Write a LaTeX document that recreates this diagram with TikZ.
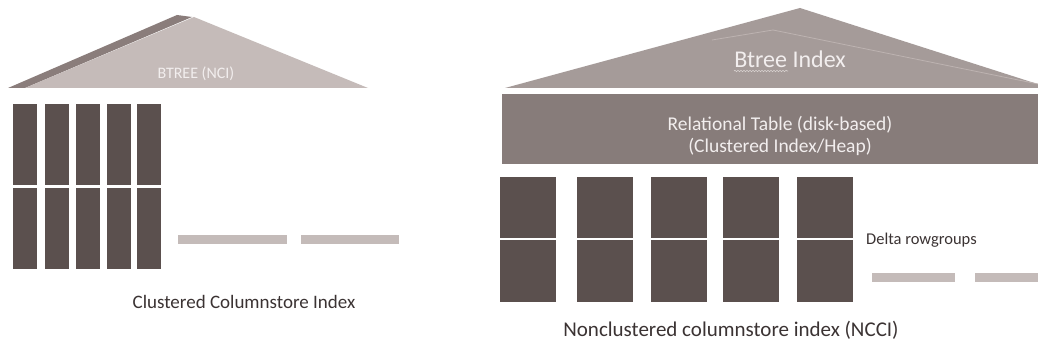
\documentclass[tikz,border=0pt]{standalone}
\usepackage{fontspec}
\setmainfont{Carlito}
\usetikzlibrary{decorations.pathmorphing}
\definecolor{roofLight}{HTML}{C5BBB9}
\definecolor{roofDark}{HTML}{8A7D7B}
\definecolor{roofMid}{HTML}{A59B99}
\definecolor{roofLine}{HTML}{BDB3B1}
\definecolor{tableCol}{HTML}{877C7A}
\definecolor{colDark}{HTML}{5B504E}
\definecolor{barCol}{HTML}{C4BBB9}
\definecolor{txtDark}{HTML}{3B3333}
\definecolor{txtLight}{HTML}{F2EEEE}
\definecolor{squig}{HTML}{D8D2D0}
\begin{document}
\begin{tikzpicture}[x=1pt,y=-1pt,
  colseg/.style={fill=colDark},
  barseg/.style={fill=barCol},
  lbl/.style={inner sep=0pt,anchor=base,text=txtDark},
  lbllight/.style={inner sep=0pt,anchor=base,text=txtLight}]
\useasboundingbox[fill=white] (0,0) rectangle (1038,347);
% ---------- left: clustered columnstore ----------
\fill[roofDark] (8,88) -- (177,15) -- (192,17) -- (25,88) -- cycle;
\fill[roofLight] (25,88) -- (194,17) -- (368,88) -- cycle;
\node[lbllight,font=\fontsize{16}{16}\selectfont] (btreenci) at (196,79) {BTREE (NCI)};
\foreach \x in {13,45,76,107,137}{
  \fill[colseg] (\x,104) rectangle ++(24,81);
  \fill[colseg] (\x,188) rectangle ++(24,81);
}
\fill[barseg] (178,235) rectangle (287,244);
\fill[barseg] (301,235) rectangle (399,244);
\node[lbl,font=\fontsize{19}{19}\selectfont] (cci) at (244,308) {Clustered Columnstore Index};
% ---------- right: nonclustered columnstore ----------
\fill[roofMid] (505,88) -- (800,8) -- (1050,88) -- cycle;
\draw[roofLine,line width=0.8pt] (712,40) -- (773,30) -- (1038,84);
\node[lbllight,font=\fontsize{24}{24}\selectfont] (btree) at (790,68) {Btree Index};
\coordinate (sqA) at ([yshift=-3pt]btree.base west);
\coordinate (sqB) at ([xshift=54pt,yshift=-3pt]btree.base west);
\draw[squig,line width=0.6pt,decorate,decoration={snake,amplitude=0.8pt,segment length=3pt}] (sqA) -- (sqB);
\fill[tableCol] (502,94) rectangle (1038,164);
\node[lbllight,font=\fontsize{19.5}{19.5}\selectfont] (rel1) at (780,131) {Relational Table (disk-based)};
\node[lbllight,font=\fontsize{19.5}{19.5}\selectfont] (rel2) at (780,152.5) {(Clustered Index/Heap)};
\foreach \x in {500,577,651,723,797}{
  \fill[colseg] (\x,177) rectangle ++(56,61);
  \fill[colseg] (\x,240) rectangle ++(56,62);
}
\node[lbl,font=\fontsize{16.5}{16.5}\selectfont,anchor=base west] (delta) at (866,244) {Delta rowgroups};
\fill[barseg] (872,273) rectangle (955,282);
\fill[barseg] (975,273) rectangle (1038,282);
\node[lbl,font=\fontsize{21}{21}\selectfont] (ncci) at (731,336) {Nonclustered columnstore index (NCCI)};
\end{tikzpicture}
\end{document}
